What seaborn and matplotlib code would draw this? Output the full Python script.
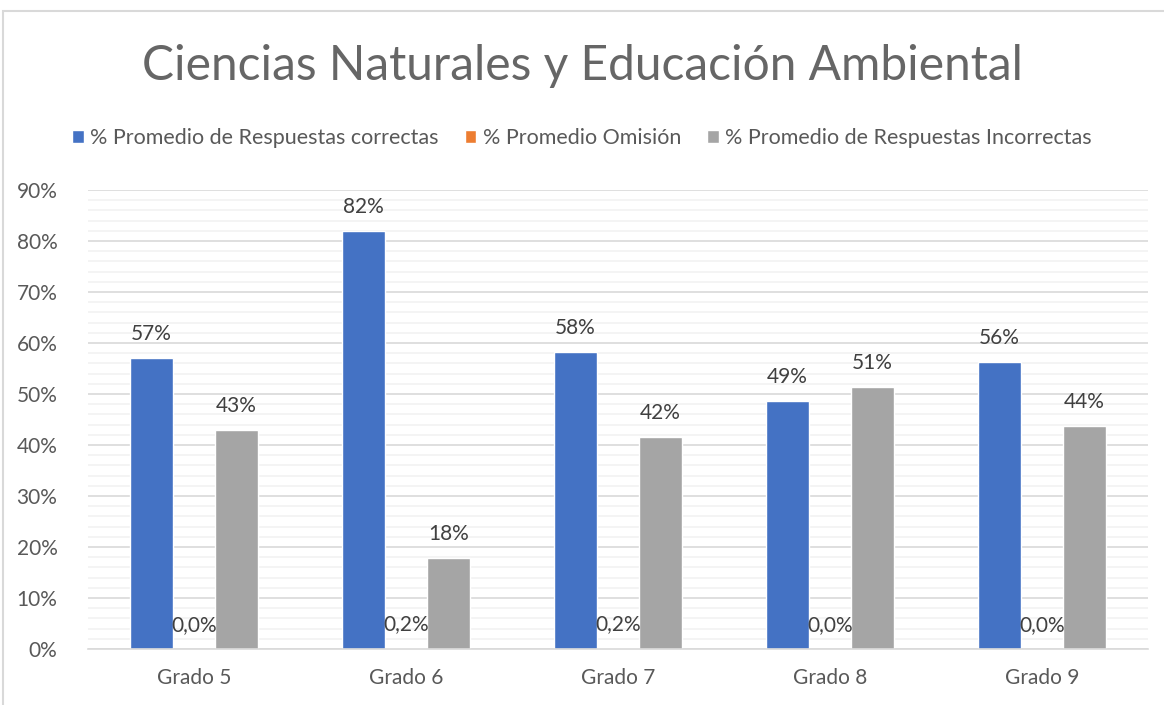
import matplotlib
matplotlib.use('Agg')
import matplotlib.pyplot as plt
from matplotlib.patches import Rectangle
from matplotlib.ticker import MultipleLocator, PercentFormatter
import seaborn as sns
import pandas as pd

grados = ['Grado 5', 'Grado 6', 'Grado 7', 'Grado 8', 'Grado 9']
series = ['% Promedio de Respuestas correctas', '% Promedio Omisión',
          '% Promedio de Respuestas Incorrectas']
correctas = [57.1, 82.0, 58.2, 48.6, 56.3]
omision = [0.0, 0.2, 0.2, 0.0, 0.0]
incorrectas = [42.9, 17.8, 41.6, 51.4, 43.7]
colores = ['#4472C4', '#ED7D31', '#A5A5A5']

rows = []
for s, vals in zip(series, [correctas, omision, incorrectas]):
    for g, v in zip(grados, vals):
        rows.append({'Grado': g, 'Serie': s, 'Valor': v})
df = pd.DataFrame(rows)

sns.set_style('white')
plt.rcParams['font.family'] = ['Lato', 'DejaVu Sans']
txt = '#595959'

fig = plt.figure(figsize=(11.64, 7.05), dpi=100)
ax = fig.add_axes([88 / 1164, 1 - 649 / 705, (1148 - 88) / 1164, (649 - 190) / 705])

sns.barplot(data=df, x='Grado', y='Valor', hue='Serie', palette=colores,
            width=0.6, gap=0, ax=ax, legend=True, errorbar=None, saturation=1)

ax.set_ylim(0, 90)
ax.set_xlim(-0.5, 4.5)
ax.yaxis.set_major_locator(MultipleLocator(10))
ax.yaxis.set_minor_locator(MultipleLocator(2))
ax.yaxis.set_major_formatter(PercentFormatter(decimals=0))
ax.grid(which='minor', axis='y', color='#F2F2F2', linewidth=1.2, zorder=0)
ax.grid(which='major', axis='y', color='#D9D9D9', linewidth=1.2, zorder=0)
ax.set_axisbelow(True)
for sp in ['top', 'right', 'left']:
    ax.spines[sp].set_visible(False)
ax.spines['bottom'].set_color('#D9D9D9')
ax.spines['bottom'].set_linewidth(1.2)
ax.tick_params(axis='both', which='both', length=0, labelsize=15, colors=txt)
ax.tick_params(axis='x', pad=14)
ax.tick_params(axis='y', pad=22)
ax.set_xlabel('')
ax.set_ylabel('')

for i, cont in enumerate(ax.containers):
    if i == 1:
        labels = [f'{v:.1f}%'.replace('.', ',') for v in omision]
    else:
        vals = correctas if i == 0 else incorrectas
        labels = [f'{v:.0f}%' for v in vals]
    ax.bar_label(cont, labels=labels, padding=10, fontsize=15, color='#404040')

leg = ax.legend(loc='center', bbox_to_anchor=(0.5, 1 - 138 / 705), bbox_transform=fig.transFigure,
                ncol=3, frameon=False, fontsize=15.5, handlelength=0.55, handleheight=0.55,
                handletextpad=0.3, columnspacing=1.2)
for t in leg.get_texts():
    t.set_color(txt)

fig.text(0.5, 1 - 66 / 705, 'Ciencias Naturales y Educación Ambiental', ha='center', va='center',
         fontsize=34.5, color='#666666')

fig.patches.append(Rectangle((3 / 1164, -0.05), 1.1, 1 - 11 / 705 + 0.05, transform=fig.transFigure,
                             fill=False, edgecolor='#D9D9D9', linewidth=1.5))

fig.savefig('out.png', dpi=100)
